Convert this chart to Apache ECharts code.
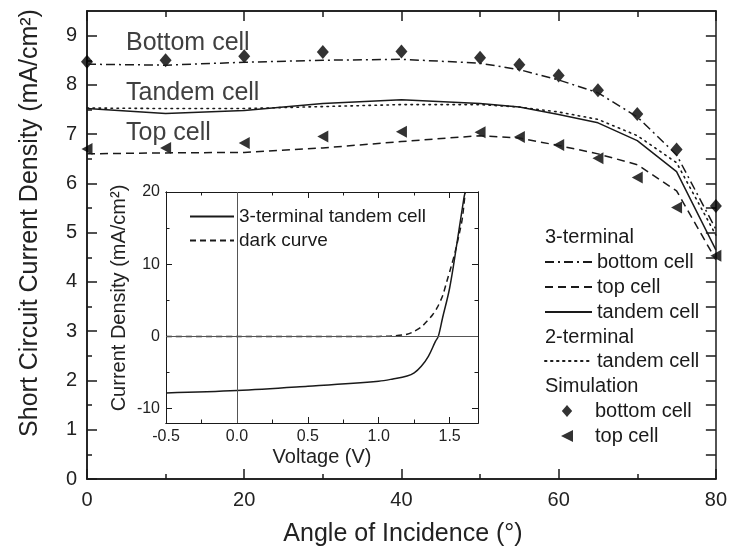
<!DOCTYPE html>
<html>
<head>
<meta charset="utf-8">
<script src="https://cdn.jsdelivr.net/npm/echarts@6/dist/echarts.min.js"></script>
<style>
  html, body { margin: 0; padding: 0; background: #fff; }
  #chart { width: 730px; height: 548px; }
</style>
</head>
<body>
<div id="chart"></div>
<script>
// main plot: short circuit current vs angle
var angle = [0, 10, 20, 30, 40, 50, 55, 60, 65, 70, 75, 80];
var bottom3T = [8.42, 8.40, 8.46, 8.50, 8.52, 8.44, 8.31, 8.10, 7.84, 7.35, 6.58, 5.07];
var top3T = [6.60, 6.62, 6.63, 6.72, 6.85, 6.97, 6.92, 6.77, 6.60, 6.38, 5.85, 4.45];
var tandem3T = [7.52, 7.42, 7.48, 7.62, 7.70, 7.62, 7.55, 7.40, 7.23, 6.87, 6.24, 4.65];
var tandem2T = [7.53, 7.52, 7.52, 7.56, 7.60, 7.60, 7.55, 7.45, 7.30, 6.97, 6.42, 4.95];
var simBottom = [8.47, 8.50, 8.58, 8.67, 8.68, 8.55, 8.41, 8.19, 7.89, 7.41, 6.69, 5.54];
var simTop = [6.70, 6.72, 6.82, 6.95, 7.05, 7.04, 6.94, 6.78, 6.51, 6.12, 5.51, 4.53];

// inset: J-V curves
var vLight = [-0.5, 0, 0.5, 1.0, 1.1, 1.2, 1.25, 1.3, 1.35, 1.4, 1.42, 1.45, 1.5, 1.55, 1.6, 1.61];
var jLight = [-7.83, -7.5, -6.9, -6.2, -5.9, -5.5, -5.07, -4.15, -2.77, -0.7, 0, 2.55, 6.7, 12.7, 19.1, 20];
var vDark = [-0.5, 0, 0.5, 1.0, 1.1, 1.2, 1.25, 1.3, 1.34, 1.38, 1.41, 1.45, 1.48, 1.51, 1.54, 1.57, 1.59, 1.61];
var jDark = [0, 0, 0, 0, 0.05, 0.3, 0.7, 1.3, 2.1, 3.0, 3.9, 5.6, 7.6, 9.6, 11.8, 14.4, 16.4, 20];

// tick positions
var angleMajor = [0, 20, 40, 60, 80];
var angleMinor = [10, 30, 50, 70];
var jscMajor = [0, 1, 2, 3, 4, 5, 6, 7, 8, 9];
var jscMinor = [0.5, 1.5, 2.5, 3.5, 4.5, 5.5, 6.5, 7.5, 8.5, 9];
var jscRight = [0.5, 1, 1.5, 2, 2.5, 3, 3.5, 4, 4.5, 5, 5.5, 6, 6.5, 7, 7.5, 8, 8.5, 9];
var voltMajor = [-0.5, 0, 0.5, 1.0, 1.5];
var voltMinor = [-0.25, 0.25, 0.75, 1.25];
var curMajor = [-10, 0, 10, 20];
var curMinor = [-5, 5, 15];

var legendNames = {
  '3T bottom': 'bottom cell',
  '3T top': 'top cell',
  '3T tandem': 'tandem cell',
  '2T tandem': 'tandem cell',
  'sim bottom': 'bottom cell',
  'sim top': 'top cell',
  'light': '3-terminal tandem cell',
  'dark': 'dark curve'
};

var FONT = 'Liberation Sans, Arial, sans-serif';
var INK = '#1a1a1a';
var DIAMOND = 'path://M6,0 L12,7 L6,14 L0,7 Z';
var LEFT_TRI = 'path://M0,5 L10,0 L10,10 Z';

function zip(xs, ys) {
  return xs.map(function (x, i) { return [x, ys[i]]; });
}

// one axis = one set of ticks (ECharts can't mix custom major/minor on one axis)
function axis(grid, pos, min, max, ticks, len, width, labels, extra) {
  var a = {
    type: 'value',
    gridIndex: grid,
    position: pos,
    min: min,
    max: max,
    axisLine: { show: true, onZero: false, lineStyle: { color: INK, width: width } },
    axisTick: { show: true, inside: true, length: len, customValues: ticks,
      lineStyle: { color: INK, width: width } },
    axisLabel: { show: false },
    splitLine: { show: false }
  };
  if (labels) {
    a.axisLabel = Object.assign({ show: true, customValues: labels, color: '#222',
      fontFamily: FONT }, extra);
  }
  return a;
}

function legend(left, top, data, size, iconW, gap, lineOnly, textPad) {
  return {
    left: left, top: top, orient: 'vertical', padding: 0,
    itemWidth: iconW, itemHeight: 12, itemGap: gap,
    itemStyle: lineOnly ? { opacity: 0 } : {},
    textStyle: { fontSize: size, color: INK, fontFamily: FONT, padding: [0, 0, 0, textPad || 0] },
    formatter: function (n) { return legendNames[n]; },
    data: data
  };
}

function label(text, x, y, size, color, rot) {
  return {
    type: 'text', x: x, y: y, rotation: rot || 0,
    style: { text: text, fontSize: size, fontFamily: FONT, fill: color,
      textAlign: rot !== undefined ? 'center' : 'left', textVerticalAlign: 'middle' }
  };
}

var chart = echarts.init(document.getElementById('chart'));

chart.setOption({
  animation: false,
  grid: [
    { left: 87, top: 11, width: 632, height: 468 },
    { left: 166, top: 192, width: 312, height: 231 }
  ],
  xAxis: [
    axis(0, 'bottom', 0, 80, angleMajor, 10, 1.5, angleMajor, { fontSize: 20, margin: 11 }),
    axis(0, 'bottom', 0, 80, angleMinor, 5, 1.5),
    axis(0, 'top', 0, 80, angleMajor, 10, 1.5),
    axis(0, 'top', 0, 80, angleMinor, 6, 1.5),
    axis(1, 'bottom', -0.5, 1.7, voltMajor, 6, 1, voltMajor,
      { fontSize: 16, margin: 6, formatter: function (v) { return v.toFixed(1); } }),
    axis(1, 'bottom', -0.5, 1.7, voltMinor, 3.5, 1),
    axis(1, 'top', -0.5, 1.7, voltMajor, 6, 1),
    axis(1, 'top', -0.5, 1.7, voltMinor, 3.5, 1)
  ],
  yAxis: [
    axis(0, 'left', 0, 9.5, jscMajor, 10, 1.5, jscMajor, { fontSize: 20, margin: 10 }),
    axis(0, 'left', 0, 9.5, jscMinor, 5, 1.5),
    axis(0, 'right', 0, 9.5, jscRight, 10, 1.5),
    axis(1, 'left', -12, 20, curMajor, 6, 1, curMajor, { fontSize: 16, margin: 6 }),
    axis(1, 'left', -12, 20, curMinor, 3.5, 1),
    axis(1, 'right', -12, 20, curMajor, 6, 1),
    axis(1, 'right', -12, 20, curMinor, 3.5, 1)
  ],
  legend: [
    legend(544, 252, ['3T bottom', '3T top', '3T tandem'], 20, 47, 5, true),
    legend(544, 351, ['2T tandem'], 20, 47, 5, true),
    legend(561, 401, ['sim bottom', 'sim top'], 20, 12, 5, false, 17),
    legend(189, 207, ['light', 'dark'], 19, 44, 5, true)
  ],
  graphic: [
    label('Bottom cell', 126, 43, 25, '#404040'),
    label('Tandem cell', 126, 93, 25, '#404040'),
    label('Top cell', 126, 133, 25, '#404040'),
    label('3-terminal', 545, 237, 20, INK),
    label('2-terminal', 545, 337, 20, INK),
    label('Simulation', 545, 386, 20, INK),
    label('Short Circuit Current Density (mA/cm²)', 30, 223, 25, '#222', Math.PI / 2),
    label('Angle of Incidence (°)', 403, 534, 25, '#222', 0),
    label('Current Density (mA/cm²)', 119, 298, 20, '#222', Math.PI / 2),
    label('Voltage (V)', 322, 457, 20, '#222', 0)
  ],
  series: [
    {
      name: '3T bottom', type: 'line', xAxisIndex: 0, yAxisIndex: 0, symbol: 'none', color: INK,
      lineStyle: { color: INK, width: 1.5, type: [9, 4, 2, 4] },
      data: zip(angle, bottom3T)
    },
    {
      name: '3T top', type: 'line', xAxisIndex: 0, yAxisIndex: 0, symbol: 'none', color: INK,
      lineStyle: { color: INK, width: 1.5, type: [8, 5] },
      data: zip(angle, top3T)
    },
    {
      name: '3T tandem', type: 'line', xAxisIndex: 0, yAxisIndex: 0, symbol: 'none', color: INK,
      lineStyle: { color: INK, width: 1.5, type: 'solid' },
      data: zip(angle, tandem3T)
    },
    {
      name: '2T tandem', type: 'line', xAxisIndex: 0, yAxisIndex: 0, symbol: 'none', color: INK,
      lineStyle: { color: INK, width: 1.6, type: [1.5, 4.5], cap: 'round' },
      data: zip(angle, tandem2T)
    },
    {
      name: 'sim bottom', type: 'scatter', xAxisIndex: 0, yAxisIndex: 0,
      symbol: DIAMOND, symbolSize: [12, 14], color: '#000',
      itemStyle: { color: '#000' },
      data: zip(angle, simBottom)
    },
    {
      name: 'sim top', type: 'scatter', xAxisIndex: 0, yAxisIndex: 0,
      symbol: LEFT_TRI, symbolSize: [11, 12], color: '#000',
      itemStyle: { color: '#000' },
      data: zip(angle, simTop)
    },
    {
      name: 'light', type: 'line', xAxisIndex: 4, yAxisIndex: 3, symbol: 'none', color: INK,
      smooth: 0.35,
      lineStyle: { color: INK, width: 1.5, type: 'solid' },
      data: zip(vLight, jLight)
    },
    {
      name: 'dark', type: 'line', xAxisIndex: 4, yAxisIndex: 3, symbol: 'none', color: INK,
      smooth: 0.3,
      lineStyle: { color: INK, width: 1.5, type: [6, 4] },
      data: zip(vDark, jDark),
      markLine: {
        silent: true, symbol: 'none', label: { show: false },
        lineStyle: { color: '#555', width: 1, type: 'solid' },
        data: [{ xAxis: 0 }, { yAxis: 0 }]
      }
    }
  ]
});
</script>
</body>
</html>
